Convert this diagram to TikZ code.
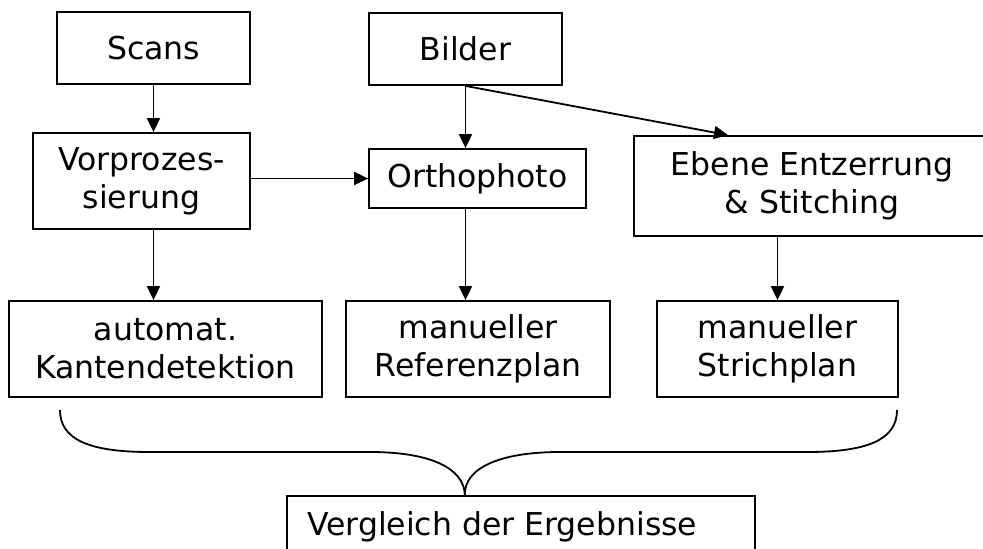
\documentclass[tikz,border=0pt]{standalone}
\usepackage{fontspec}
\setmainfont{DejaVu Sans}
\usetikzlibrary{arrows.meta,calc}
\begin{document}
\begin{tikzpicture}[x=1pt,y=-1pt,
  box/.style={draw=black,line width=1.8pt,inner sep=0pt,align=center,
    font=\fontsize{31.5}{38}\selectfont},
  arr/.style={line width=1.8pt,-{Triangle[length=14pt,width=13pt]}},
  lbl/.style={inner sep=0pt,font=\fontsize{31.5}{38}\selectfont}]
\clip (0,0) rectangle (983,549);
\useasboundingbox (0,0) rectangle (983,549);
\fill[white] (0,0) rectangle (983,549);
\node[box,minimum width=193pt,minimum height=72pt] (scans) at (153.5,48) {Scans};
\node[box,minimum width=193pt,minimum height=72pt] (bilder) at (465.5,49) {Bilder};
\node[box,minimum width=217pt,minimum height=96pt] (vorpro) at (141.5,181) {Vorprozes-\\sierung};
\node[box,minimum width=217pt,minimum height=59pt] (ortho) at (477.5,178.5) {Orthophoto};
\node[box,minimum width=356pt,minimum height=100pt] (ebene) at (812,186) {Ebene Entzerrung\\\& Stitching};
\node[box,minimum width=313pt,minimum height=96pt] (auto) at (165.5,349) {automat.\\Kantendetektion};
\node[box,minimum width=264pt,minimum height=96pt] (ref) at (478,349) {manueller\\Referenzplan};
\node[box,minimum width=241pt,minimum height=96pt] (strich) at (777.5,349) {manueller\\Strichplan};
\node[box,minimum width=468pt,minimum height=70pt,anchor=north west] (vergl) at (286,495) {};
\node[lbl,anchor=base west] (verglT) at (307,535) {Vergleich der Ergebnisse};
% connectors
\draw[arr] (scans.south) -- (scans.south |- vorpro.north);
\draw[arr] (bilder.south) -- (bilder.south |- ortho.north);
\draw[arr] (bilder.south) -- ([xshift=-84pt]ebene.north);
\draw[arr] (vorpro.east |- ortho.west) -- (ortho.west);
\draw[arr] ([xshift=12pt]vorpro.south) -- ([xshift=-12pt]auto.north);
\draw[arr] (bilder.south |- ortho.south) -- (bilder.south |- ref.north);
\draw[arr] (strich.north |- ebene.south) -- (strich.north);
% brace
\coordinate (bl) at (60,410);
\coordinate (br) at (897,410);
\coordinate (tip) at ([xshift=-56pt]vergl.north);
\draw[line width=1.8pt] (bl) .. controls (60,440) and (90,452) .. (150,452)
  -- (370,452) .. controls (430,452) and (464,468) .. (tip)
  .. controls (464,468) and (500,452) .. (560,452)
  -- (807,452) .. controls (867,452) and (897,440) .. (br);
\end{tikzpicture}
\end{document}
